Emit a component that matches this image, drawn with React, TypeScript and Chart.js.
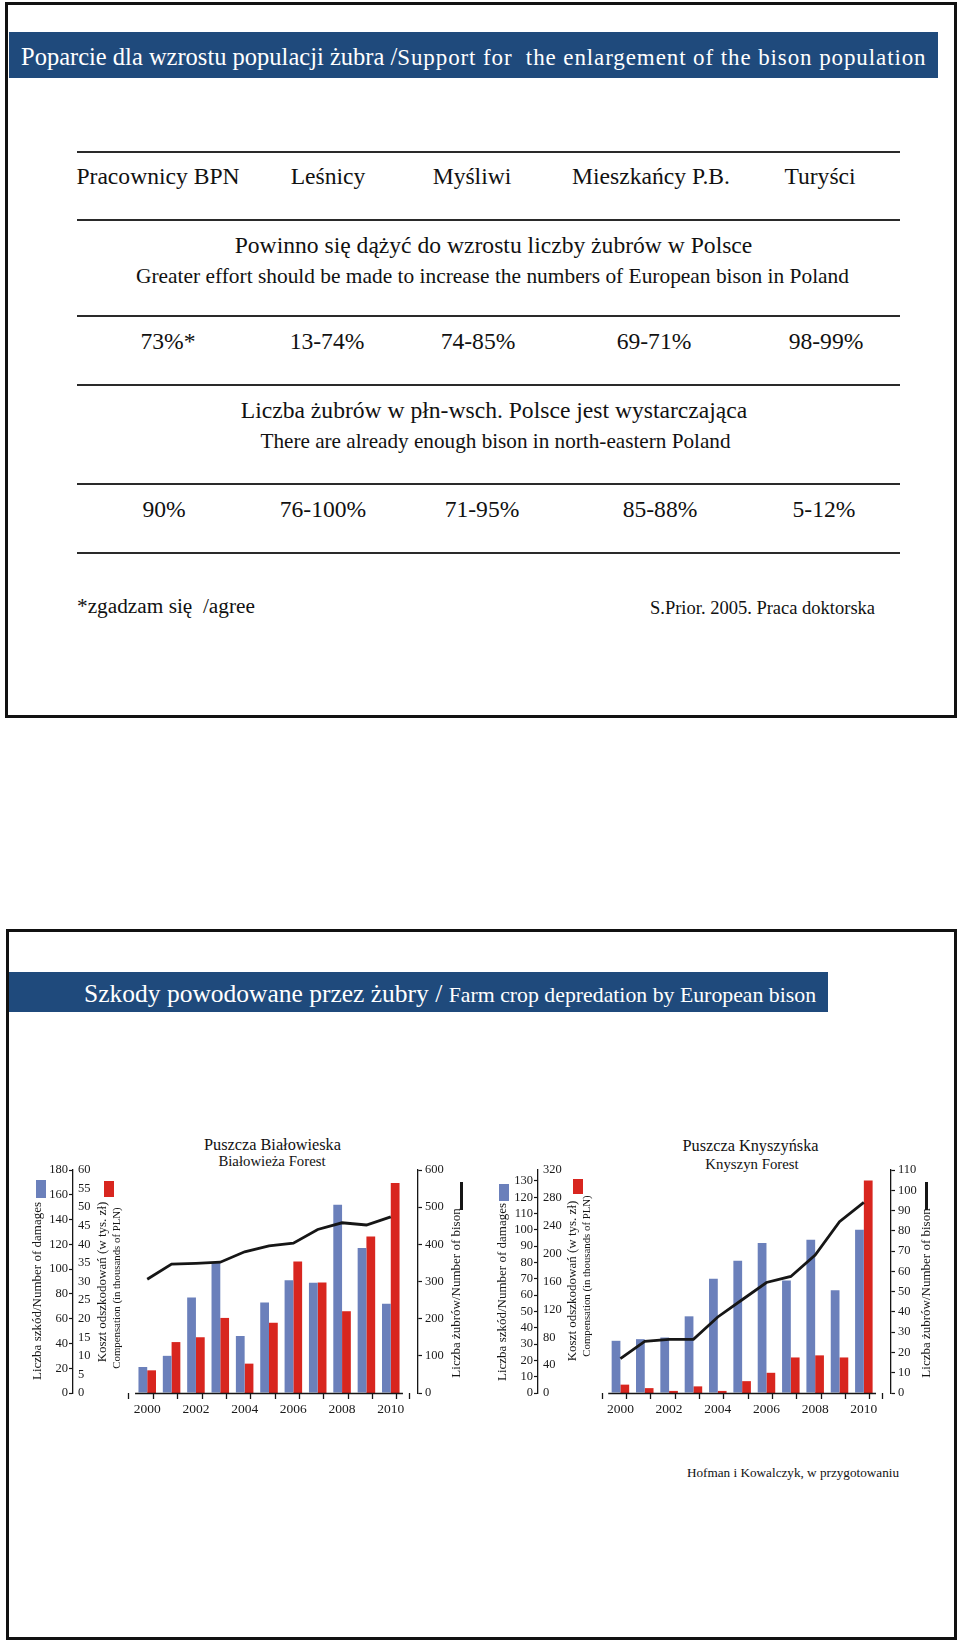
import React, { useEffect, useRef } from 'react';
import { Chart, registerables } from 'chart.js';

Chart.register(...registerables);

const SERIF = "'Liberation Serif', 'Times New Roman', serif";
Chart.defaults.font.family = SERIF;
Chart.defaults.color = '#1a1a1a';

// ---------- data ----------
const YEARS = [2000, 2001, 2002, 2003, 2004, 2005, 2006, 2007, 2008, 2009, 2010];

// Puszcza Białowieska
const BW_DAMAGES = [21, 30, 77, 105, 46, 73, 91, 89, 152, 117, 72];
const BW_COMPENSATION = [6.1, 13.7, 15.0, 20.2, 7.9, 18.9, 35.4, 29.7, 22.0, 42.1, 56.5];
const BW_BISON = [306, 347, 349, 352, 380, 396, 403, 440, 458, 452, 474];

// Puszcza Knyszyńska
const KN_DAMAGES = [32, 33, 34, 47, 70, 81, 92, 69, 94, 63, 100];
const KN_COMPENSATION = [12, 7, 3, 9.5, 3, 17, 29, 51, 54, 51, 305];
const KN_BISON = [17, 25.5, 26.5, 26.5, 37.5, 46, 54.5, 57.5, 68, 84.5, 94];

// survey table
const GROUPS = ['Pracownicy BPN', 'Leśnicy', 'Myśliwi', 'Mieszkańcy P.B.', 'Turyści'];
const Q1_VALUES = ['73%*', '13-74%', '74-85%', '69-71%', '98-99%'];
const Q2_VALUES = ['90%', '76-100%', '71-95%', '85-88%', '5-12%'];

// ---------- layout / style ----------
const BLUE = '#6b80bb';
const RED = '#d8261f';
const INK = '#161616';
const BAND = '#1f4a7c';

const HEADER_X = [158, 328, 472, 651, 820];
const Q1_X = [168, 327, 478, 654, 826];
const Q2_X = [164, 323, 482, 660, 824];
const RULES_Y = [152, 220, 316, 385, 484, 553];

type RotLabel = { text: string; x: number; y: number; size: number };
interface ForestSpec {
  left: number;
  top: number;
  width: number;
  height: number;
  damages: number[];
  compensation: number[];
  bison: number[];
  damageMax: number;
  damageStep: number;
  compMax: number;
  compStep: number;
  bisonMax: number;
  bisonStep: number;
  xMin: number;
  xMax: number;
  leftAxisWidth: number;
  rightAxisWidth: number;
  padTop: number;
  padBottom: number;
  xAxisHeight: number;
  labels: RotLabel[];
  blueBox: [number, number, number, number];
  redBox: [number, number, number, number];
  bisonKey: [number, number, number, number];
}

const BW_SPEC: ForestSpec = {
  left: 0,
  top: 1100,
  width: 480,
  height: 340,
  damages: BW_DAMAGES,
  compensation: BW_COMPENSATION,
  bison: BW_BISON,
  damageMax: 180,
  damageStep: 20,
  compMax: 60,
  compStep: 5,
  bisonMax: 600,
  bisonStep: 100,
  xMin: 1997.26,
  xMax: 2010.81,
  leftAxisWidth: 73,
  rightAxisWidth: 62,
  padTop: 70,
  padBottom: 17,
  xAxisHeight: 30,
  labels: [
    { text: 'Liczba szkód/Number of damages', x: 38, y: 191, size: 13 },
    { text: 'Koszt odszkodowań (w tys. zł)', x: 103, y: 182, size: 13 },
    { text: 'Compensation (in thousands of PLN)', x: 117, y: 188, size: 10.8 },
    { text: 'Liczba żubrów/Number of bison', x: 457, y: 193, size: 13 },
  ],
  blueBox: [36, 80, 10, 18],
  redBox: [104, 81, 10, 16],
  bisonKey: [460, 82, 3, 28],
};

const KN_SPEC: ForestSpec = {
  left: 480,
  top: 1100,
  width: 480,
  height: 340,
  damages: KN_DAMAGES,
  compensation: KN_COMPENSATION,
  bison: KN_BISON,
  damageMax: 136.7,
  damageStep: 10,
  compMax: 320,
  compStep: 40,
  bisonMax: 110,
  bisonStep: 10,
  xMin: 1996.93,
  xMax: 2010.8,
  leftAxisWidth: 58,
  rightAxisWidth: 69,
  padTop: 70,
  padBottom: 17,
  xAxisHeight: 30,
  labels: [
    { text: 'Liczba szkód/Number of damages', x: 23, y: 192, size: 13 },
    { text: 'Koszt odszkodowań (w tys. zł)', x: 93, y: 181, size: 13 },
    { text: 'Compensation (in thousands of PLN)', x: 107, y: 176, size: 10.8 },
    { text: 'Liczba żubrów/Number of bison', x: 447, y: 193, size: 13 },
  ],
  blueBox: [19, 84, 10, 17],
  redBox: [93, 79, 10, 15],
  bisonKey: [445, 82, 3, 28],
};

const TICK_FONT = { family: SERIF, size: 12.5 };

function buildConfig(s: ForestSpec): any {
  const last = YEARS[YEARS.length - 1];
  const xTicks = [...YEARS.map((y) => y - 0.5), last + 0.5, ...YEARS].sort((a, b) => a - b);

  const decor = {
    id: 'decor',
    afterDatasetsDraw(chart: any) {
      const { ctx, chartArea } = chart;
      const xs = chart.scales.x;
      ctx.save();
      ctx.strokeStyle = INK;
      ctx.lineWidth = 1.3;
      ctx.beginPath();
      ctx.moveTo(xs.getPixelForValue(YEARS[0] - 0.5), chartArea.bottom + 0.5);
      ctx.lineTo(xs.getPixelForValue(last + 0.5), chartArea.bottom + 0.5);
      ctx.stroke();
      ctx.restore();
    },
    afterDraw(chart: any) {
      const ctx = chart.ctx;
      ctx.save();
      ctx.fillStyle = BLUE;
      ctx.fillRect(...s.blueBox);
      ctx.fillStyle = RED;
      ctx.fillRect(...s.redBox);
      ctx.fillStyle = INK;
      ctx.fillRect(...s.bisonKey);
      ctx.textAlign = 'center';
      ctx.textBaseline = 'middle';
      for (const l of s.labels) {
        ctx.save();
        ctx.translate(l.x, l.y);
        ctx.rotate(-Math.PI / 2);
        ctx.font = `${l.size}px ${SERIF}`;
        ctx.fillText(l.text, 0, 0);
        ctx.restore();
      }
      ctx.restore();
    },
  };

  return {
    type: 'bar',
    data: {
      labels: YEARS,
      datasets: [
        {
          type: 'line',
          data: s.bison,
          yAxisID: 'yBison',
          borderColor: INK,
          borderWidth: 2.8,
          pointRadius: 0,
          tension: 0,
          order: 0,
        },
        {
          type: 'bar',
          data: s.damages,
          yAxisID: 'yDamage',
          backgroundColor: BLUE,
          borderWidth: 0,
          barPercentage: 1,
          categoryPercentage: 1.44,
          order: 1,
        },
        {
          type: 'bar',
          data: s.compensation,
          yAxisID: 'yComp',
          backgroundColor: RED,
          borderWidth: 0,
          barPercentage: 1,
          categoryPercentage: 1.44,
          order: 1,
        },
      ],
    },
    options: {
      animation: false,
      responsive: false,
      maintainAspectRatio: false,
      layout: { padding: { left: 0, right: 0, top: s.padTop, bottom: s.padBottom } },
      plugins: { legend: { display: false }, tooltip: { enabled: false }, title: { display: false } },
      scales: {
        x: {
          type: 'linear',
          min: s.xMin,
          max: s.xMax,
          afterBuildTicks: (scale: any) => {
            scale.ticks = xTicks.map((v) => ({ value: v }));
          },
          afterFit: (scale: any) => {
            scale.height = s.xAxisHeight;
          },
          ticks: {
            autoSkip: false,
            maxRotation: 0,
            minRotation: 0,
            padding: 2,
            font: { family: SERIF, size: 13.5 },
            color: '#1a1a1a',
            callback: (v: number) => (Number.isInteger(v) && v % 2 === 0 ? String(v) : ''),
          },
          grid: {
            drawOnChartArea: false,
            drawTicks: true,
            tickLength: 6,
            tickWidth: 1.3,
            color: (ctx: any) => (ctx.tick && Number.isInteger(ctx.tick.value) ? 'rgba(0,0,0,0)' : INK),
            tickColor: (ctx: any) =>
              ctx.tick && Number.isInteger(ctx.tick.value) ? 'rgba(0,0,0,0)' : INK,
          },
          border: { display: false },
        },
        yDamage: {
          position: 'left',
          weight: 1,
          min: 0,
          max: s.damageMax,
          afterFit: (scale: any) => {
            scale.width = s.leftAxisWidth;
          },
          ticks: {
            stepSize: s.damageStep,
            includeBounds: false,
            autoSkip: false,
            padding: 1,
            font: TICK_FONT,
            color: '#1a1a1a',
          },
          grid: { drawOnChartArea: false, tickLength: 4, color: INK, tickWidth: 1.2 },
          border: { display: true, color: INK, width: 1.3 },
        },
        yComp: {
          position: 'left',
          weight: 0,
          min: 0,
          max: s.compMax,
          afterFit: (scale: any) => {
            scale.width = 0;
          },
          ticks: {
            stepSize: s.compStep,
            autoSkip: false,
            mirror: true,
            padding: 5,
            font: TICK_FONT,
            color: '#1a1a1a',
          },
          grid: { display: false },
          border: { display: false },
        },
        yBison: {
          position: 'right',
          min: 0,
          max: s.bisonMax,
          afterFit: (scale: any) => {
            scale.width = s.rightAxisWidth;
          },
          ticks: {
            stepSize: s.bisonStep,
            autoSkip: false,
            padding: 3,
            font: TICK_FONT,
            color: '#1a1a1a',
          },
          grid: { drawOnChartArea: false, tickLength: 4, color: INK, tickWidth: 1.2 },
          border: { display: true, color: INK, width: 1.3 },
        },
      },
    },
    plugins: [decor],
  };
}

function ForestChart({ spec }: { spec: ForestSpec }) {
  const ref = useRef<HTMLCanvasElement | null>(null);
  useEffect(() => {
    if (!ref.current) return;
    const chart = new Chart(ref.current, buildConfig(spec));
    return () => chart.destroy();
  }, [spec]);
  return (
    <canvas
      ref={ref}
      width={spec.width}
      height={spec.height}
      style={{ position: 'absolute', left: spec.left, top: spec.top, width: spec.width, height: spec.height }}
    />
  );
}

function T({
  x,
  baseline,
  size,
  children,
  center = false,
  color = '#111',
  style = {},
}: {
  x: number;
  baseline: number;
  size: number;
  children: React.ReactNode;
  center?: boolean;
  color?: string;
  style?: React.CSSProperties;
}) {
  return (
    <div
      style={{
        position: 'absolute',
        left: x,
        top: baseline - 0.8375 * size,
        fontFamily: SERIF,
        fontSize: size,
        lineHeight: `${size}px`,
        whiteSpace: 'pre',
        color,
        transform: center ? 'translateX(-50%)' : undefined,
        ...style,
      }}
    >
      {children}
    </div>
  );
}

export default function App() {
  return (
    <div
      style={{
        position: 'relative',
        width: 960,
        height: 1645,
        background: '#fff',
        overflow: 'hidden',
        fontFamily: SERIF,
        color: '#111',
      }}
    >
      <style>{'body{margin:0}'}</style>

      {/* ---------- top slide ---------- */}
      <div
        style={{
          position: 'absolute',
          left: 5,
          top: 2,
          width: 952,
          height: 716,
          border: '3px solid #111',
          boxSizing: 'border-box',
        }}
      />
      <div style={{ position: 'absolute', left: 9, top: 32, width: 929, height: 46, background: BAND }} />
      <div
        style={{
          position: 'absolute',
          left: 21,
          top: 66 - 0.8375 * 24.5,
          fontSize: 24.5,
          lineHeight: '24.5px',
          whiteSpace: 'pre',
          color: '#fff',
        }}
      >
        Poparcie dla wzrostu populacji żubra /
        <span style={{ fontSize: 23, letterSpacing: 0.9 }}>Support for  the enlargement of the bison population</span>
      </div>

      {RULES_Y.map((y) => (
        <div
          key={y}
          style={{ position: 'absolute', left: 77, top: y - 0.8, width: 823, height: 1.6, background: '#2a2a2a' }}
        />
      ))}

      {GROUPS.map((g, i) => (
        <T key={g} x={HEADER_X[i]} baseline={185} size={23.6} center>
          {g}
        </T>
      ))}

      <T x={493.5} baseline={253.3} size={23.6} center>
        Powinno się dążyć do wzrostu liczby żubrów w Polsce
      </T>
      <T x={492.5} baseline={284.3} size={21.4} center>
        Greater effort should be made to increase the numbers of European bison in Poland
      </T>

      {Q1_VALUES.map((v, i) => (
        <T key={v} x={Q1_X[i]} baseline={350} size={23.6} center>
          {v}
        </T>
      ))}

      <T x={494} baseline={418.3} size={23.6} center>
        Liczba żubrów w płn-wsch. Polsce jest wystarczająca
      </T>
      <T x={495.5} baseline={448.3} size={21.2} center>
        There are already enough bison in north-eastern Poland
      </T>

      {Q2_VALUES.map((v, i) => (
        <T key={v} x={Q2_X[i]} baseline={517.3} size={23.6} center>
          {v}
        </T>
      ))}

      <T x={77} baseline={614} size={21.3}>
        {'*zgadzam się  /agree'}
      </T>
      <T x={650} baseline={614} size={18.5}>
        S.Prior. 2005. Praca doktorska
      </T>

      {/* ---------- bottom slide ---------- */}
      <div
        style={{
          position: 'absolute',
          left: 6,
          top: 929,
          width: 951,
          height: 711,
          border: '3px solid #111',
          boxSizing: 'border-box',
        }}
      />
      <div style={{ position: 'absolute', left: 9, top: 972, width: 819, height: 40, background: BAND }} />
      <div
        style={{
          position: 'absolute',
          left: 84,
          top: 1002 - 0.8375 * 25.5,
          fontSize: 25.5,
          lineHeight: '25.5px',
          whiteSpace: 'pre',
          color: '#fff',
        }}
      >
        {'Szkody powodowane przez żubry / '}
        <span style={{ fontSize: 21.8 }}>Farm crop depredation by European bison</span>
      </div>

      <T x={272.5} baseline={1150.5} size={16.3} center>
        Puszcza Białowieska
      </T>
      <T x={272} baseline={1166.5} size={14.8} center>
        Białowieża Forest
      </T>
      <T x={750.5} baseline={1152} size={16.3} center>
        Puszcza Knyszyńska
      </T>
      <T x={752} baseline={1169} size={14.8} center>
        Knyszyn Forest
      </T>

      <ForestChart spec={BW_SPEC} />
      <ForestChart spec={KN_SPEC} />

      <T x={687} baseline={1477} size={13.2}>
        Hofman i Kowalczyk, w przygotowaniu
      </T>
    </div>
  );
}
